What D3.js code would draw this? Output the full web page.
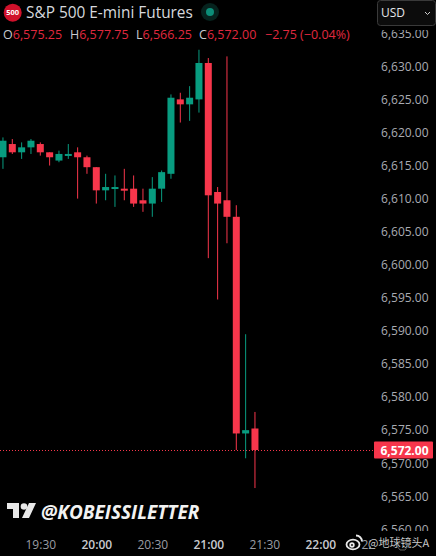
<!DOCTYPE html>
<html>
<head>
<meta charset="utf-8">
<script src="https://cdn.jsdelivr.net/npm/d3@7"></script>
<style>
  html, body { margin: 0; padding: 0; background: #000; }
  svg { display: block; }
  text { font-family: "Open Sans", "Noto Sans CJK SC", sans-serif; }
</style>
</head>
<body>
<svg id="chart"></svg>
<script>
// 5 minute candles
var times = ['19:10','19:15','19:20','19:25','19:30','19:35','19:40','19:45','19:50','19:55',
  '20:00','20:05','20:10','20:15','20:20','20:25','20:30','20:35','20:40','20:45',
  '20:50','20:55','21:00','21:05','21:10','21:15','21:20','21:25'];
var opens = [6616.25,6618.25,6617,6617.75,6618.25,6617,6615.75,6616.5,6617,6616.25,
  6614.75,6611.25,6611.5,6611.5,6611.5,6609.75,6609.25,6611.5,6613.75,6625,
  6624.25,6625,6630.5,6611,6609.75,6607.25,6574.5,6575.25];
var highs = [6619.25,6619,6618.5,6619,6618.5,6617,6617.25,6618.25,6617.75,6616.5,
  6614.75,6613.75,6613.5,6614.5,6613.5,6611.5,6613.25,6614.25,6625.75,6626,
  6627,6632.5,6631.25,6611.75,6631.5,6609,6589.5,6577.75];
var lows = [6614.5,6616.75,6616,6616.75,6616.5,6615,6615.5,6616,6610,6613.75,
  6609.25,6609.75,6608.75,6609.75,6608.75,6608,6607.25,6609.5,6613,6621.5,
  6621.75,6623,6601,6594.75,6603.25,6572,6570.75,6566.25];
var closes = [6618.75,6617,6617.75,6618.75,6617,6616.25,6616.75,6616.75,6616.25,6614.75,
  6611.25,6611.75,6611.75,6611.25,6609.25,6609.25,6611.5,6614,6625.25,6624.25,
  6625.25,6630.5,6610.5,6609.25,6607.25,6574.5,6575,6572];
var priceTicks = [6560,6565,6570,6575,6580,6585,6590,6595,6600,6605,6610,6615,6620,6625,6630,6635];
var timeTicks = ['19:30','20:00','20:30','21:00','21:30','22:00','22:30'];
var lastPrice = 6572;
var ohlcLabels = ['O','H','L','C'];
var ohlcValues = ['6,575.25','6,577.75','6,566.25','6,572.00'];

var width = 436, height = 556;
var red = '#f7364b', green = '#089c80';

var svg = d3.select('#chart').attr('width', width).attr('height', height);
svg.append('rect').attr('width', width).attr('height', height).attr('fill', '#000');

var parseTime = d3.timeParse('%H:%M');
var x = d3.scaleTime().domain([parseTime('19:30'), parseTime('22:00')]).range([40.3, 320.3]);
var y = d3.scaleLinear().domain([6572, 6630]).range([450, 66.3]);
var bodyW = 7;

// price axis
var yAxis = d3.axisRight(y).tickValues(priceTicks).tickSize(0).tickFormat(d3.format(',.2f'));
var yG = svg.append('g').attr('transform', 'translate(374,0)').call(yAxis);
yG.select('.domain').remove();
yG.selectAll('text').attr('x', 54.5).attr('text-anchor', 'end')
  .attr('font-size', 12).attr('fill', '#a9abb2').style('font-family', '"Open Sans", sans-serif');

// covers for labels that run under the header and the time strip
svg.append('rect').attr('x', 370).attr('y', 0).attr('width', 66).attr('height', 30).attr('fill', '#000');
svg.append('rect').attr('x', 370).attr('y', 531).attr('width', 66).attr('height', 25).attr('fill', '#000');

// last price line
svg.append('line')
  .attr('x1', 0).attr('x2', 374).attr('y1', Math.floor(y(lastPrice)) + 0.5).attr('y2', Math.floor(y(lastPrice)) + 0.5)
  .attr('stroke', red).attr('stroke-width', 1).attr('stroke-dasharray', '1 2');

// candles
var candles = svg.selectAll('g.candle')
  .data(times)
  .enter()
  .append('g')
  .attr('class', 'candle')
  .attr('fill', (d,i) => closes[i] >= opens[i] ? green : red)
  .attr('stroke', (d,i) => closes[i] >= opens[i] ? green : red);
candles.append('line')
  .attr('x1', d => x(parseTime(d)))
  .attr('x2', d => x(parseTime(d)))
  .attr('y1', (d,i) => y(highs[i]))
  .attr('y2', (d,i) => y(lows[i]))
  .attr('stroke-width', 1);
candles.append('rect')
  .attr('x', d => x(parseTime(d)) - bodyW/2)
  .attr('y', (d,i) => y(Math.max(opens[i], closes[i])))
  .attr('width', bodyW)
  .attr('height', (d,i) => Math.max(2, Math.abs(y(opens[i]) - y(closes[i]))))
  .attr('stroke', 'none');

// price tag
svg.append('rect').attr('x', 374).attr('y', y(lastPrice) - 8.5).attr('width', 59).attr('height', 17)
  .attr('rx', 1).attr('fill', red);
svg.append('text').attr('x', 428.5).attr('y', y(lastPrice) + 4.5)
  .attr('text-anchor', 'end').attr('font-size', 12).attr('font-weight', 700).attr('fill', '#fff')
  .text(d3.format(',.2f')(lastPrice));

// time axis
var xAxis = d3.axisBottom(x)
  .tickValues(timeTicks.map(parseTime))
  .tickSize(0)
  .tickFormat(d3.timeFormat('%H:%M'));
var xG = svg.append('g').attr('transform', 'translate(0,531)').call(xAxis);
xG.select('.domain').remove();
xG.selectAll('text')
  .attr('y', 9).attr('font-size', 12)
  .style('font-family', '"Open Sans", sans-serif')
  .attr('font-weight', d => d.getMinutes() == 0 ? 600 : 400)
  .attr('fill', d => d.getMinutes() == 0 ? '#c8cad0' : '#9a9ca3');

// header
svg.append('circle').attr('cx', 12.7).attr('cy', 12.7).attr('r', 9).attr('fill', '#d0112b');
svg.append('text').attr('x', 12.7).attr('y', 15.3).attr('text-anchor', 'middle')
  .attr('font-size', 7.5).attr('font-weight', 700).attr('fill', '#fff').text('500');
svg.append('text').attr('x', 26).attr('y', 18).attr('font-size', 15.4).attr('fill', '#d6d8dd')
  .text('S&P 500 E-mini Futures');
svg.append('circle').attr('cx', 210).attr('cy', 12).attr('r', 9).attr('fill', '#06231e');
svg.append('circle').attr('cx', 210).attr('cy', 12).attr('r', 4).attr('fill', '#0c8d78');

var ohlcX = [3, 70, 136, 199];
ohlcLabels.forEach(function(l, i){
  var t = svg.append('text').attr('x', ohlcX[i]).attr('y', 38.5).attr('font-size', 12.5);
  t.append('tspan').attr('fill', '#c8cad0').text(l);
  t.append('tspan').attr('fill', '#e0293f').text(ohlcValues[i]);
});
svg.append('text').attr('x', 265).attr('y', 38.5).attr('font-size', 12.5).attr('fill', '#e0293f')
  .text('\u22122.75 (\u22120.04%)');

// currency box
svg.append('rect').attr('x', 377.5).attr('y', 0.5).attr('width', 58).attr('height', 25).attr('rx', 3)
  .attr('fill', '#0c0c0c').attr('stroke', '#3a3a3a');
svg.append('text').attr('x', 381).attr('y', 17).attr('font-size', 12).attr('fill', '#e4e5e8').text('USD');
svg.append('path').attr('d', 'M425 12 l2.5 2.5 l2.5 -2.5').attr('fill', 'none').attr('stroke', '#d0d0d0');

// tradingview mark and handle
svg.append('path').attr('fill', '#e8e8e8')
  .attr('d', 'M7 503 H19 V518 H13 V509 H7 Z M36 503 L29 518 H22 L29 503 Z');
svg.append('circle').attr('cx', 24).attr('cy', 506.5).attr('r', 3.3).attr('fill', '#e8e8e8');
svg.append('text').attr('x', 41).attr('y', 519).attr('font-size', 19)
  .attr('font-weight', 700).attr('font-style', 'italic').attr('fill', '#f2f2f2')
  .text('@KOBEISSILETTER');

// weibo watermark, it hides the end of the last time label
svg.append('rect').attr('x', 371).attr('y', 532).attr('width', 65).attr('height', 24).attr('fill', '#000');
var wb = svg.append('g').attr('fill', 'none').attr('stroke', '#e8e8e8').attr('stroke-width', 1.8);
wb.append('ellipse').attr('cx', 353).attr('cy', 544.5).attr('rx', 6.5).attr('ry', 4.8);
wb.append('circle').attr('cx', 352).attr('cy', 545).attr('r', 1.8);
wb.append('path').attr('d', 'M356 535.5 a6 6 0 0 1 6 6');
svg.append('text').attr('x', 368).attr('y', 547).attr('font-size', 11).attr('fill', '#c8c8c8')
  .style('font-family', '"Noto Sans CJK SC", sans-serif').text('@地球镜头A');
svg.append('path').attr('fill', 'none').attr('stroke', '#5a5a5a')
  .attr('d', 'M397 546 l3 -4 h5 l3 4 l-3 4 h-5 Z');
</script>
</body>
</html>
